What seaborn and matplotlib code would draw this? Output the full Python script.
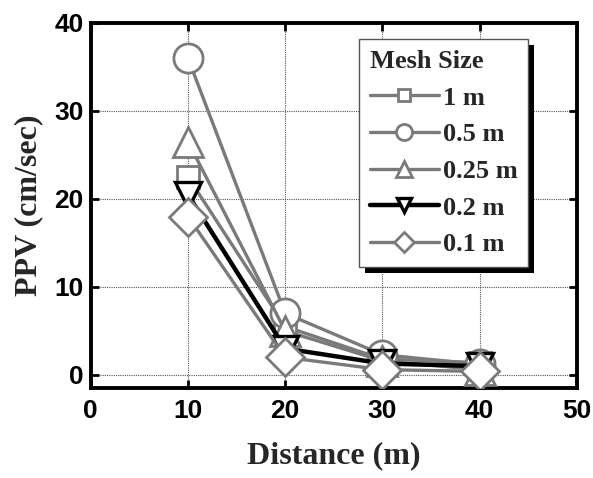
import matplotlib
matplotlib.use("Agg")
import matplotlib.pyplot as plt
import matplotlib.patches as mpatches
import seaborn as sns
import pandas as pd

distance = [10, 20, 30, 40]
mesh_labels = ["1 m", "0.5 m", "0.25 m", "0.2 m", "0.1 m"]
ppv_1m = [22.5, 5.5, 1.8, 1.4]
ppv_05m = [36.0, 7.0, 2.3, 1.2]
ppv_025m = [26.5, 5.0, 1.6, 0.6]
ppv_02m = [20.5, 3.0, 1.3, 1.0]
ppv_01m = [18.0, 2.0, 0.6, 0.4]
x_ticks = [0, 10, 20, 30, 40, 50]
y_ticks = [0, 10, 20, 30, 40]

series = [ppv_1m, ppv_05m, ppv_025m, ppv_02m, ppv_01m]
rows = []
for lab, vals in zip(mesh_labels, series):
    for d, v in zip(distance, vals):
        rows.append({"Distance": d, "PPV": v, "Mesh Size": lab})
df = pd.DataFrame(rows)

sns.set_theme(style="white")
plt.rcParams["font.family"] = ["Liberation Sans", "DejaVu Sans"]

fig = plt.figure(figsize=(5.93, 4.78), dpi=100)
ax = fig.add_axes([0.153, 0.188, 0.820, 0.764])

markers = {"1 m": "s", "0.5 m": "o", "0.25 m": "^", "0.2 m": "v", "0.1 m": "D"}
msizes = {"1 m": 16, "0.5 m": 21, "0.25 m": 21, "0.2 m": 19, "0.1 m": 19}
gray = "#7a7a7a"
for lab in mesh_labels:
    sub = df[df["Mesh Size"] == lab]
    is_black = lab == "0.2 m"
    col = "black" if is_black else gray
    sns.lineplot(data=sub, x="Distance", y="PPV", ax=ax, color=col,
                 lw=3.2 if is_black else 2.4, marker=markers[lab],
                 markersize=msizes[lab], markerfacecolor="white",
                 markeredgecolor=col, markeredgewidth=2.4 if is_black else 2.0,
                 label=lab, zorder=3)

ax.set_xlim(0, 50)
ax.set_ylim(-1.5, 40)
ax.set_xticks(x_ticks)
ax.set_yticks(y_ticks)
ax.set_xticklabels([str(t) for t in x_ticks], fontsize=19, fontweight="bold")
ax.set_yticklabels([str(t) for t in y_ticks], fontsize=19, fontweight="bold")
ax.grid(True, color="#555555", lw=0.8, ls=(0, (1, 1)))
ax.tick_params(axis="x", pad=8)
ax.tick_params(axis="y", pad=5)
ax.tick_params(direction="in", length=6, width=2, top=True, right=True,
               bottom=True, left=True, colors="black")
for s in ax.spines.values():
    s.set_linewidth(2.8)
    s.set_color("black")

ax.set_xlabel("Distance (m)", fontsize=23, fontweight="bold",
              family="Liberation Serif", labelpad=13)
ax.set_ylabel("PPV (cm/sec)", fontsize=23, fontweight="bold",
              family="Liberation Serif", labelpad=8)

handles, labels = ax.get_legend_handles_labels()
leg = ax.legend(handles, labels, title="Mesh Size", loc="upper right",
                bbox_to_anchor=(0.899, 0.955), frameon=True, fancybox=False,
                shadow=False, framealpha=1.0, facecolor="white",
                markerscale=0.55,
                handlelength=2.6, handletextpad=0.15, borderpad=0.4,
                labelspacing=0.5, borderaxespad=0,
                prop={"family": "Liberation Serif", "weight": "bold", "size": 19})
leg.get_title().set_fontfamily("Liberation Serif")
leg.get_title().set_fontweight("bold")
leg.get_title().set_fontsize(19)
leg._legend_box.align = "left"
leg.get_frame().set_edgecolor("#555555")
leg.get_frame().set_linewidth(1.0)
leg.set_zorder(6)

fig.canvas.draw()
bb = leg.get_frame().get_window_extent()
inv = ax.transAxes.inverted()
(x0, y0) = inv.transform((bb.x0 + 6, bb.y0 - 6))
(x1, y1) = inv.transform((bb.x1 + 6, bb.y1 - 6))
shadow = mpatches.Rectangle((x0, y0), x1 - x0, y1 - y0, transform=ax.transAxes,
                            facecolor="black", edgecolor="none", zorder=5,
                            clip_on=False)
ax.add_patch(shadow)

fig.savefig("out.png", dpi=100)
